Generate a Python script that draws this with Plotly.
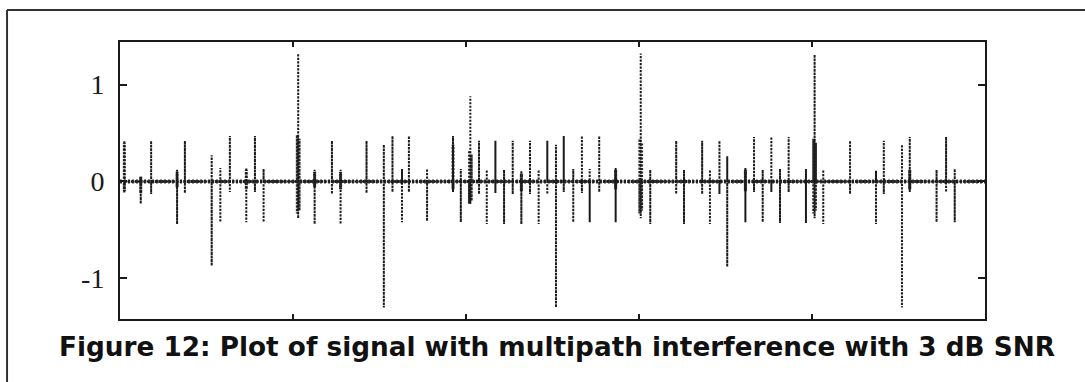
import plotly.graph_objects as go

# Pulse positions (sample index) with positive and negative peak amplitudes
spike_pos = [5, 24, 36, 66, 75, 106, 116, 127, 146, 156, 166, 206, 225, 245, 255,
             285, 305, 315, 326, 334, 355, 385, 394, 405, 415, 424, 434, 444, 454,
             464, 474, 484, 494, 504, 513, 524, 534, 543, 554, 573, 602, 613, 643,
             652, 673, 682, 693, 702, 723, 733, 743, 753, 763, 773, 793, 803, 813,
             844, 874, 883, 904, 913, 944, 955, 965]
spike_top = [0.42, 0.05, 0.42, 0.12, 0.42, 0.27, 0.14, 0.47, 0.14, 0.47, 0.13, 1.32, 0.12, 0.42, 0.12,
             0.42, 0.38, 0.47, 0.13, 0.47, 0.13, 0.47, 0.13, 0.88, 0.42, 0.12, 0.42, 0.12, 0.42,
             0.11, 0.42, 0.12, 0.42, 0.38, 0.47, 0.13, 0.47, 0.13, 0.47, 0.14, 1.32, 0.12, 0.42,
             0.12, 0.42, 0.12, 0.42, 0.26, 0.14, 0.46, 0.12, 0.46, 0.13, 0.46, 0.13, 1.31, 0.12,
             0.42, 0.11, 0.42, 0.38, 0.46, 0.12, 0.46, 0.13]
spike_bot = [-0.12, -0.23, -0.13, -0.44, -0.12, -0.87, -0.42, -0.11, -0.42, -0.11, -0.42, -0.38, -0.44, -0.13, -0.44,
             -0.12, -1.30, -0.11, -0.42, -0.11, -0.41, -0.11, -0.42, -0.23, -0.13, -0.44, -0.12, -0.44, -0.13,
             -0.44, -0.13, -0.44, -0.13, -1.30, -0.11, -0.42, -0.12, -0.42, -0.11, -0.42, -0.38, -0.44, -0.13,
             -0.44, -0.13, -0.44, -0.13, -0.88, -0.42, -0.11, -0.42, -0.11, -0.43, -0.11, -0.43, -0.38, -0.44,
             -0.13, -0.44, -0.13, -1.30, -0.11, -0.42, -0.11, -0.42]

# Dense echo clusters around the strongest pulses and a few weaker pulses
echo_pos = [5, 205, 207, 404, 406, 601, 603, 802, 804,
            24, 66, 146, 225, 255, 385, 464, 573, 723, 913]
echo_top = [0.40, 0.48, 0.44, 0.32, 0.28, 0.44, 0.40, 0.44, 0.40,
            0.05, 0.10, 0.12, 0.10, 0.10, 0.38, 0.08, 0.12, 0.12, 0.12]
echo_bot = [-0.10, -0.33, -0.30, -0.23, -0.20, -0.33, -0.30, -0.33, -0.30,
            -0.12, -0.06, -0.08, -0.06, -0.08, -0.08, -0.10, -0.08, -0.10, -0.08]

y_ticks = [-1, 0, 1]
y_tick_text = ["-1", "0", "1"]
x_ticks = [200, 400, 600, 800]
caption = "Figure 12: Plot of signal with multipath interference with 3 dB SNR"


def pulse_path(pos, top, bot):
    xs, ys = [0], [0]
    for p, t, b in sorted(zip(pos, top, bot)):
        xs += [p, p, p, p]
        ys += [0, t, b, 0]
    xs.append(1000)
    ys.append(0)
    return xs, ys


sx, sy = pulse_path(spike_pos, spike_top, spike_bot)
ex, ey = pulse_path(echo_pos, echo_top, echo_bot)

ink = "#1a1a1a"
fig = go.Figure()
fig.add_trace(go.Scatter(x=[0, 1000], y=[0, 0], mode="lines",
                         line=dict(color="#3a3a3a", width=4, dash="2px,2px"),
                         hoverinfo="skip", showlegend=False))
fig.add_trace(go.Scatter(x=ex, y=ey, mode="lines",
                         line=dict(color="#2a2a2a", width=3, dash="2px,1.5px"),
                         hoverinfo="skip", showlegend=False))
fig.add_trace(go.Scatter(x=sx, y=sy, mode="lines",
                         line=dict(color=ink, width=2, dash="2px,1.5px"),
                         showlegend=False))

axis_common = dict(showgrid=False, zeroline=False, showline=True, linecolor=ink,
                   linewidth=2, mirror="ticks", ticks="inside", tickcolor=ink,
                   tickwidth=1.5)

fig.update_layout(
    width=1085, height=382,
    margin=dict(l=120, r=100, t=42, b=63),
    paper_bgcolor="white", plot_bgcolor="white",
    xaxis=dict(range=[0, 1000], tickvals=x_ticks, showticklabels=False,
               ticklen=5, **axis_common),
    yaxis=dict(range=[-1.42, 1.44], tickvals=y_ticks, ticktext=y_tick_text,
               ticklen=7, ticklabelstandoff=8,
               tickfont=dict(family="Liberation Serif", size=28, color=ink),
               **axis_common),
    annotations=[dict(text="<b>" + caption + "</b>", xref="paper", yref="paper",
                      x=0.505, y=-0.101, xanchor="center", yanchor="middle",
                      showarrow=False,
                      font=dict(family="DejaVu Sans", size=26.3, color="#111"))],
    shapes=[
        dict(type="line", xref="paper", yref="paper", x0=-0.1306, x1=1.12,
             y0=1.1155, y1=1.1155, line=dict(color="#333", width=2)),
        dict(type="line", xref="paper", yref="paper", x0=-0.1306, x1=-0.1306,
             y0=1.1155, y1=-0.23, line=dict(color="#333", width=2)),
    ],
)

fig.write_html("out.html")
